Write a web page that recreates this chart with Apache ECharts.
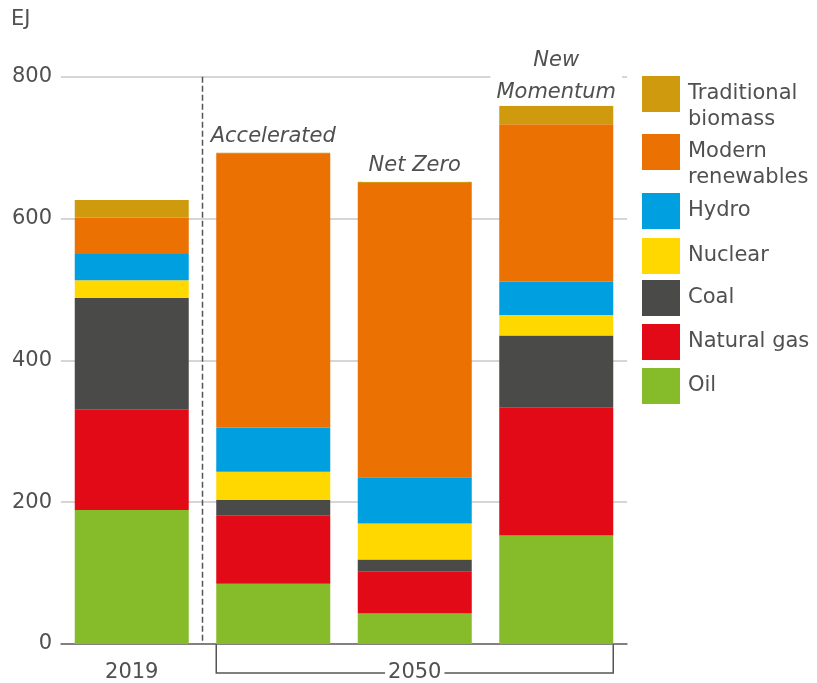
<!DOCTYPE html>
<html>
<head>
<meta charset="utf-8">
<script src="https://cdn.jsdelivr.net/npm/echarts@6/dist/echarts.min.js"></script>
<style>
html,body{margin:0;padding:0;background:#fff;}
#main{width:817px;height:683px;}
</style>
</head>
<body>
<div id="main"></div>
<script>
// categories / labels
var categories = ['2019', 'Accelerated', 'Net Zero', 'New Momentum'];
var axisLabels = ['2019', '', '', ''];
var scenarioLabels = ['', 'Accelerated', 'Net Zero', 'New\nMomentum'];
var periodLabel = '2050';
var yTicks = [0, 200, 400, 600, 800];

// EJ, stacked from the bottom
var oil = [189, 85, 43, 153];
var naturalGas = [142, 96, 59, 180];
var coal = [157, 22, 17, 102];
var nuclear = [25, 40, 51, 29];
var hydro = [37, 62, 65, 47];
var modernRenewables = [51, 386, 415, 222];
var traditionalBiomass = [25, 2, 2, 26];

var seriesNames = ['Oil', 'Natural gas', 'Coal', 'Nuclear', 'Hydro', 'Modern renewables', 'Traditional biomass'];
var legendLabels = ['Oil', 'Natural gas', 'Coal', 'Nuclear', 'Hydro', 'Modern\nrenewables', 'Traditional\nbiomass'];
var seriesData = [oil, naturalGas, coal, nuclear, hydro, modernRenewables, traditionalBiomass];
var colors = ['#86bb29', '#e10a16', '#4a4a48', '#ffd800', '#009fe0', '#ec7103', '#d09a0e'];

var FONT = "'DejaVu Sans', sans-serif";
var TXT = '#505050';
var BAR_W = 114;
// legend icon tops (px), same order as seriesNames
var legendTops = [368, 324, 280, 238, 193, 134, 76];

var chart = echarts.init(document.getElementById('main'));

var series = seriesNames.map(function (name, i) {
	var isTop = i == seriesNames.length - 1;
	var s = {
		name: name,
		type: 'bar',
		stack: 'total',
		data: isTop ? seriesData[i].map(function (v, j) {
			// two-line label sits a little lower, white box must not cover the bar
			return scenarioLabels[j].indexOf('\n') >= 0 ? { value: v, label: { padding: [0, 6, -3, 6] } } : v;
		}) : seriesData[i],
		barWidth: BAR_W,
		itemStyle: { color: colors[i] },
		emphasis: { disabled: true }
	};
	if (isTop) {
		s.label = {
			show: true,
			position: 'top',
			distance: 0,
			formatter: function (p) { return scenarioLabels[p.dataIndex]; },
			fontFamily: FONT,
			fontSize: 21,
			fontStyle: 'italic',
			color: TXT,
			lineHeight: 32,
			backgroundColor: '#fff',
			padding: [0, 6]
		};
	}
	return s;
});

// one legend per item so the two-line names can sit like the original
var legends = seriesNames.map(function (name, i) {
	var twoLine = legendLabels[i].indexOf('\n') >= 0;
	return {
		data: [name],
		orient: 'vertical',
		left: 642,
		top: legendTops[i] - (twoLine ? 21 : 0),
		padding: 0,
		itemWidth: 38,
		itemHeight: 36,
		icon: 'rect',
		selectedMode: false,
		formatter: function () { return (twoLine ? '\n' : '') + legendLabels[i]; },
		textStyle: {
			fontFamily: FONT,
			fontSize: 21,
			color: TXT,
			lineHeight: 26,
			padding: [0, 0, 0, 3]
		}
	};
});

var option = {
	animation: false,
	title: {
		text: 'EJ',
		left: 11,
		top: 9,
		padding: 0,
		textStyle: { fontFamily: FONT, fontSize: 21, fontWeight: 'normal', color: TXT }
	},
	legend: legends,
	grid: { left: 61, right: 190, top: 76.7, bottom: 38.7 },
	xAxis: {
		type: 'category',
		data: categories,
		axisTick: { show: false },
		axisLine: { lineStyle: { color: '#666', width: 1.5 } },
		axisLabel: {
			interval: 0,
			margin: 18,
			fontFamily: FONT,
			fontSize: 21,
			color: TXT,
			formatter: function (v, i) { return axisLabels[i]; }
		}
	},
	yAxis: {
		type: 'value',
		min: yTicks[0],
		max: yTicks[yTicks.length - 1],
		interval: yTicks[1] - yTicks[0],
		axisLine: { show: false },
		axisTick: { show: false },
		axisLabel: { margin: 9, fontFamily: FONT, fontSize: 21, color: TXT },
		splitLine: { lineStyle: { color: '#c8c8c8', width: 1.5 } }
	},
	series: series
};
chart.setOption(option);

// dashed divider after 2019 + 2050 bracket under the three scenario bars
function drawExtras() {
	var y0 = chart.convertToPixel({ yAxisIndex: 0 }, yTicks[0]);
	var yTop = chart.convertToPixel({ yAxisIndex: 0 }, yTicks[yTicks.length - 1]);
	var x0 = chart.convertToPixel({ xAxisIndex: 0 }, categories[0]);
	var x1 = chart.convertToPixel({ xAxisIndex: 0 }, categories[1]);
	var xL = x1 - BAR_W / 2;
	var xR = chart.convertToPixel({ xAxisIndex: 0 }, categories[3]) + BAR_W / 2;
	var xC = chart.convertToPixel({ xAxisIndex: 0 }, categories[2]);
	var xMid = (x0 + x1) / 2;
	var yB = y0 + 29;
	chart.setOption({
		graphic: [
			{
				type: 'line',
				silent: true,
				shape: { x1: xMid, y1: yTop, x2: xMid, y2: y0 },
				style: { stroke: '#555', lineWidth: 1.5, lineDash: [6, 3] }
			},
			{
				type: 'polyline',
				silent: true,
				shape: { points: [[xL, y0], [xL, yB], [xR, yB], [xR, y0]] },
				style: { stroke: '#555', lineWidth: 1.5, fill: null }
			},
			{
				type: 'text',
				silent: true,
				z: 10,
				x: xC,
				y: yB,
				style: {
					text: periodLabel,
					fill: TXT,
					fontFamily: FONT,
					fontSize: 21,
					align: 'center',
					verticalAlign: 'middle',
					backgroundColor: '#fff',
					padding: [0, 3]
				}
			}
		]
	});
}
drawExtras();
</script>
</body>
</html>
